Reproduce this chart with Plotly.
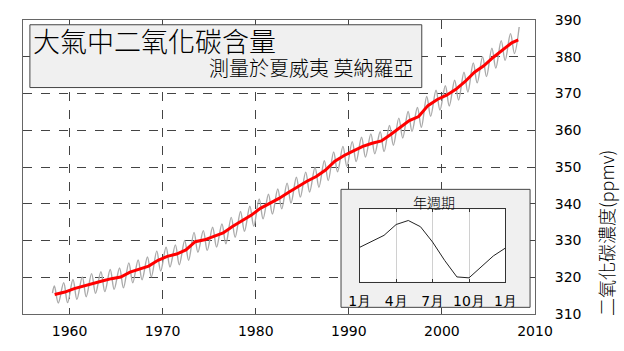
import plotly.graph_objects as go

# ---- data ----
years = list(range(1958, 2009))
annual_mean = [315.3, 315.97, 316.91, 317.64, 318.45, 318.99, 319.62, 320.04, 321.38, 322.16,
               323.04, 324.62, 325.68, 326.32, 327.45, 329.68, 330.18, 331.11, 332.04, 333.83,
               335.40, 336.84, 338.75, 340.11, 341.45, 343.05, 344.65, 346.12, 347.42, 349.19,
               351.57, 353.12, 354.39, 355.61, 356.45, 357.10, 358.83, 360.82, 362.61, 363.73,
               366.70, 368.38, 369.55, 371.14, 373.28, 375.80, 377.52, 379.80, 381.90, 383.79,
               384.60]
# seasonal maxima (May) and minima (Sep/Oct) of the monthly series, 1958..2008 / 1958..2007
peak_vals = [317.6, 318.5, 319.4, 320.1, 321.0, 321.5, 322.1, 322.5, 323.9, 324.7,
             325.5, 327.1, 328.2, 328.8, 330.0, 332.2, 332.7, 333.6, 334.5, 336.3,
             337.9, 339.3, 341.3, 342.6, 344.0, 345.6, 347.2, 348.6, 349.9, 351.7,
             354.1, 355.6, 356.9, 358.1, 359.0, 359.6, 361.3, 363.3, 365.1, 366.2,
             369.2, 370.9, 372.1, 373.6, 375.8, 378.3, 380.0, 382.3, 384.4, 386.3,
             388.1]
trough_vals = [313.0, 313.1, 314.0, 314.7, 315.6, 316.1, 316.7, 317.1, 318.5, 319.3,
               320.1, 321.7, 322.8, 323.4, 324.6, 326.8, 327.3, 328.2, 329.1, 330.9,
               332.5, 333.9, 335.9, 337.2, 338.6, 340.2, 341.8, 343.2, 344.5, 346.3,
               348.7, 350.2, 351.5, 352.7, 353.6, 354.2, 355.9, 357.9, 359.7, 360.8,
               363.8, 365.5, 366.6, 368.2, 370.4, 372.9, 374.6, 376.9, 379.0, 380.9]
series_start = (1958.17, 315.7)

season_months = list(range(13))
season_vals = [-0.18, 0.40, 1.01, 2.09, 2.49, 1.87, 0.34, -1.50, -3.13, -3.22, -2.12, -1.04, -0.25]
season_ticks = ["1月", "4月", "7月", "10月", "1月"]

x_ticks = [1960, 1970, 1980, 1990, 2000, 2010]
y_ticks = [310, 320, 330, 340, 350, 360, 370, 380, 390]

title = "大氣中二氧化碳含量"
subtitle = "測量於夏威夷 莫納羅亞"
ylabel = "二氧化碳濃度(ppmv)"
inset_title = "年週期"

# ---- build monthly curve from maxima/minima ----
gx, gy = [series_start[0]], [series_start[1]]
for i, yr in enumerate(years):
    gx.append(yr + 0.37 if yr < 2008 else yr + 0.3)
    gy.append(peak_vals[i])
    if i < len(trough_vals):
        gx.append(yr + 0.79)
        gy.append(trough_vals[i])

red_x = [1958.4] + [y + 0.5 for y in years[1:-1]] + [2008.2]
red_y = annual_mean

W, H = 624, 351
L, R, T, B = 15, 89, 13, 29
pw, ph = W - L - R, H - T - B
def px(x): return (x - L) / pw
def py(y): return (H - B - y) / ph

CJK = "Noto Sans CJK TC"
LAT = "DejaVu Sans"
CW = 300

fig = go.Figure()
fig.add_trace(go.Scatter(x=gx, y=gy, mode="lines", line=dict(color="#aaaaaa", width=1.4, shape="spline", smoothing=1.0),
                         hoverinfo="skip", xaxis="x", yaxis="y"))
fig.add_trace(go.Scatter(x=red_x, y=red_y, mode="lines", line=dict(color="#ff0000", width=3),
                         xaxis="x", yaxis="y"))
# inset background box
fig.add_trace(go.Scatter(x=[0, 1, 1, 0, 0], y=[0, 0, 1, 1, 0], mode="lines", fill="toself",
                         fillcolor="#f0f0f0", line=dict(color="#f0f0f0", width=0),
                         hoverinfo="skip", xaxis="x2", yaxis="y2"))
# inset curve
fig.add_trace(go.Scatter(x=season_months, y=season_vals, mode="lines", line=dict(color="#222222", width=1),
                         xaxis="x3", yaxis="y3"))

grid = dict(showgrid=True, gridcolor="#444444", gridwidth=1, griddash="dash")
fig.update_layout(
    width=W, height=H, margin=dict(l=L, r=R, t=T, b=B),
    paper_bgcolor="white", plot_bgcolor="white", showlegend=False,
    xaxis=dict(range=[1955, 2010], tickvals=x_ticks, **grid, zeroline=False,
               showline=True, mirror="ticks", linecolor="#666666", linewidth=1,
               ticks="inside", ticklen=4, tickcolor="#444444",
               tickfont=dict(family=LAT, size=14, color="black"), ticklabelstandoff=4),
    yaxis=dict(range=[310, 390], tickvals=y_ticks, side="right", **grid, zeroline=False,
               showline=True, mirror="ticks", linecolor="#666666", linewidth=1,
               ticks="inside", ticklen=4, tickcolor="#444444",
               tickfont=dict(family=LAT, size=14, color="black"), ticklabelstandoff=16),
    xaxis2=dict(domain=[px(338), px(530)], range=[0, 1], visible=False, fixedrange=True),
    yaxis2=dict(domain=[py(315), py(191)], range=[0, 1], visible=False, fixedrange=True),
    xaxis3=dict(domain=[px(357), px(505)], anchor="y3", range=[0, 12], tickvals=[0, 3, 6, 9, 12],
                ticktext=season_ticks, showgrid=True, gridcolor="#d0d0d0", gridwidth=1, zeroline=False,
                showline=True, mirror="ticks", linecolor="#333333", linewidth=1,
                ticks="inside", ticklen=3, tickcolor="#333333",
                tickfont=dict(family=LAT, size=14, color="black"), ticklabelstandoff=7),
    yaxis3=dict(domain=[py(288), py(212)], anchor="x3", range=[-3.6, 3.6], showticklabels=False,
                showgrid=False, zeroline=False, showline=True, mirror=True, linecolor="#333333",
                linewidth=1, ticks=""),
    shapes=[
        dict(type="rect", xref="paper", yref="paper", x0=px(22), x1=px(420), y0=py(84), y1=py(18),
             fillcolor="#f0f0f0", line=dict(color="#444444", width=1), layer="above"),
        dict(type="rect", xref="paper", yref="paper", x0=px(338), x1=px(530), y0=py(315), y1=py(191),
             fillcolor="rgba(0,0,0,0)", line=dict(color="#444444", width=1), layer="above"),
    ],
    annotations=[
        dict(text=title, xref="paper", yref="paper", x=px(23), y=py(35), xanchor="left", yanchor="middle",
             showarrow=False, font=dict(family=CJK, size=27, color="black", weight=CW)),
        dict(text=subtitle, xref="paper", yref="paper", x=px(413), y=py(63), xanchor="right", yanchor="middle",
             showarrow=False, font=dict(family=CJK, size=20, color="black", weight=CW)),
        dict(text=ylabel, xref="paper", yref="paper", x=px(607), y=py(237), xanchor="center", yanchor="middle",
             textangle=-90, showarrow=False, font=dict(family=CJK, size=18, color="black", weight=CW)),
        dict(text=inset_title, xref="paper", yref="paper", x=px(432), y=py(204), xanchor="center", yanchor="middle",
             showarrow=False, font=dict(family=CJK, size=14, color="black", weight=CW)),
    ],
)

fig.write_html("out.html")
